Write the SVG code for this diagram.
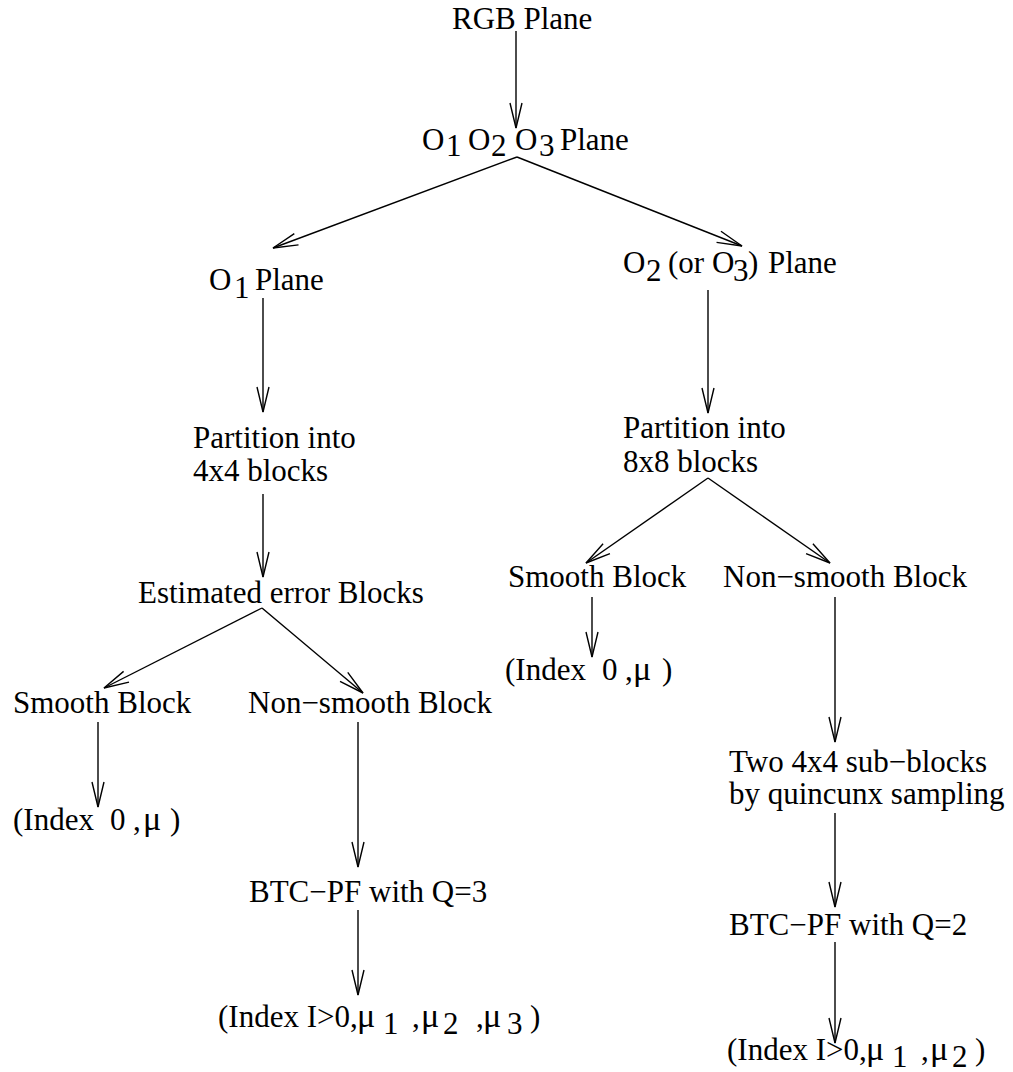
<svg xmlns="http://www.w3.org/2000/svg" width="1013" height="1072" viewBox="0 0 1013 1072">
<style>
text{font-family:"Liberation Serif","Times New Roman",serif;font-size:31px;fill:#000}
text.mu{font-size:34px}
.c line{stroke:#000;stroke-width:1.4;fill:none;marker-end:url(#ah)}
</style>
<defs>
<marker id="ah" markerUnits="userSpaceOnUse" markerWidth="30" markerHeight="16" viewBox="-27 -8 30 16" refX="0" refY="0" orient="auto">
<path d="M-25,-6 L0,0 L-25,6" fill="none" stroke="#000" stroke-width="1.4"/>
</marker>
</defs>
<rect width="1013" height="1072" fill="#fff"/>
<g class="c" id="connectors">
<line x1="516" y1="31" x2="516" y2="128"/>
<line x1="517" y1="157" x2="273" y2="248"/>
<line x1="517" y1="157" x2="742" y2="246"/>
<line x1="263" y1="298" x2="263" y2="412"/>
<line x1="263" y1="494" x2="263" y2="577"/>
<line x1="262" y1="608" x2="104" y2="688"/>
<line x1="262" y1="608" x2="363" y2="693"/>
<line x1="98" y1="722" x2="98" y2="807"/>
<line x1="358" y1="722" x2="358" y2="867"/>
<line x1="358" y1="910" x2="358" y2="995"/>
<line x1="708" y1="290" x2="708" y2="413"/>
<line x1="708" y1="478" x2="586" y2="563"/>
<line x1="708" y1="478" x2="830" y2="563"/>
<line x1="592" y1="597" x2="592" y2="657"/>
<line x1="835" y1="597" x2="835" y2="742"/>
<line x1="835" y1="813" x2="835" y2="907"/>
<line x1="835" y1="942" x2="835" y2="1043"/>
</g>
<g id="rgb"><text x="452" y="29">RGB Plane</text></g>
<g id="o123">
<text x="422" y="150">O</text><text x="446" y="156">1</text>
<text x="468" y="150">O</text><text x="491" y="156">2</text>
<text x="515" y="150">O</text><text x="539" y="156">3</text>
<text x="560" y="150">Plane</text>
</g>
<g id="o1"><text x="209" y="290">O</text><text x="234" y="298">1</text><text x="255" y="290">Plane</text></g>
<g id="o2"><text x="623" y="273">O</text><text x="646" y="281">2</text><text x="668" y="273">(or O</text><text x="733" y="281">3</text><text x="748" y="273">)</text><text x="768" y="273">Plane</text></g>
<g id="part4"><text x="193" y="448">Partition into</text><text x="193" y="481">4x4 blocks</text></g>
<g id="est"><text x="138" y="603">Estimated error Blocks</text></g>
<g id="smoothL"><text x="13" y="713">Smooth Block</text></g>
<g id="nonsmoothL"><text x="248" y="713">Non−smooth Block</text></g>
<g id="idxL"><text x="13" y="830">(Index</text><text x="110" y="830">0</text><text x="133" y="830">,</text><text class="mu" x="143" y="830">μ</text><text x="170" y="830">)</text></g>
<g id="btc3"><text x="249" y="902">BTC−PF with Q=3</text></g>
<g id="idx3">
<text x="218" y="1027">(Index I&gt;0,</text>
<text class="mu" x="357" y="1027">μ</text><text x="383" y="1034">1</text>
<text x="412" y="1027">,</text><text class="mu" x="421" y="1027">μ</text><text x="443" y="1034">2</text>
<text x="476" y="1027">,</text><text class="mu" x="483" y="1027">μ</text><text x="507" y="1034">3</text>
<text x="530" y="1027">)</text>
</g>
<g id="part8"><text x="623" y="438">Partition into</text><text x="623" y="472">8x8 blocks</text></g>
<g id="smoothR"><text x="508" y="587">Smooth Block</text></g>
<g id="nonsmoothR"><text x="723" y="587">Non−smooth Block</text></g>
<g id="idxR"><text x="505" y="680">(Index</text><text x="602" y="680">0</text><text x="625" y="680">,</text><text class="mu" x="633" y="680">μ</text><text x="662" y="680">)</text></g>
<g id="two"><text x="729" y="772">Two 4x4 sub−blocks</text><text x="729" y="804">by quincunx sampling</text></g>
<g id="btc2"><text x="729" y="935">BTC−PF with Q=2</text></g>
<g id="idx2">
<text x="727" y="1060">(Index I&gt;0,</text>
<text class="mu" x="866" y="1060">μ</text><text x="892" y="1067">1</text>
<text x="921" y="1060">,</text><text class="mu" x="930" y="1060">μ</text><text x="952" y="1067">2</text>
<text x="975" y="1060">)</text>
</g>
</svg>
